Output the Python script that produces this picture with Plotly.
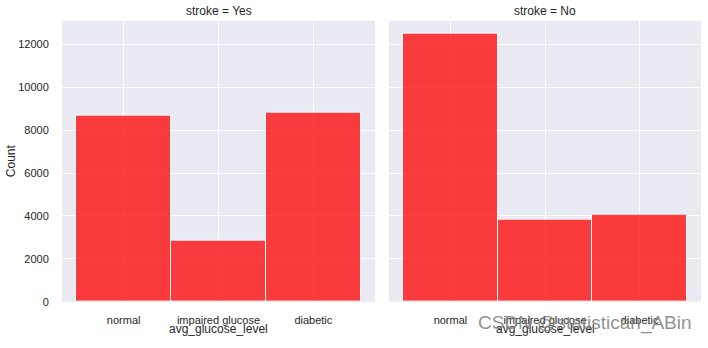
import plotly.graph_objects as go

categories = ["normal", "impaired glucose", "diabetic"]
panels = ["Yes", "No"]
counts_yes = [8680, 2840, 8820]
counts_no = [12490, 3820, 4050]
y_ticks = [0, 2000, 4000, 6000, 8000, 10000, 12000]

W, H = 708, 348
font = "Liberation Sans, Arial, sans-serif"
bg = "#EAEAF2"

fig = go.Figure()
series = [counts_yes, counts_no]
for i, (p, vals) in enumerate(zip(panels, series)):
    fig.add_trace(go.Bar(
        x=list(range(len(categories))), y=vals, width=1.0,
        marker=dict(color="red", opacity=0.75, line=dict(color="white", width=1)),
        xaxis="x" if i == 0 else "x2", yaxis="y" if i == 0 else "y2",
        showlegend=False, hoverinfo="skip",
    ))

ydom = [41 / H, 327 / H]
xdom1 = [62 / W, 375 / W]
xdom2 = [389 / W, 701 / W]
yr = [0, 13115]
xr = [-0.65, 2.65]

common_x = dict(range=xr, tickvals=list(range(len(categories))), ticktext=categories,
                showgrid=True, gridcolor="white", gridwidth=1, zeroline=False,
                showline=False, ticks="outside", ticklen=8, tickcolor="rgba(0,0,0,0)",
                tickfont=dict(family=font, size=11, color="#262626"))
common_y = dict(range=yr, tickvals=y_ticks, tickformat="d", showgrid=True, gridcolor="white",
                gridwidth=1, zeroline=False, showline=False, ticks="outside", ticklen=10,
                tickcolor="rgba(0,0,0,0)", tickfont=dict(family=font, size=11, color="#262626"))

fig.update_layout(
    width=W, height=H, margin=dict(l=0, r=0, t=0, b=0),
    paper_bgcolor="white", plot_bgcolor=bg, bargap=0,
    xaxis=dict(domain=xdom1, anchor="y", **common_x),
    xaxis2=dict(domain=xdom2, anchor="y2", **common_x),
    yaxis=dict(domain=ydom, anchor="x", **common_y),
    yaxis2=dict(domain=ydom, anchor="x2", showticklabels=False,
                **{k: v for k, v in common_y.items() if k != "tickfont"}),
    font=dict(family=font, color="#262626"),
)

annos = []
for dom, p in [(xdom1, panels[0]), (xdom2, panels[1])]:
    cx = (dom[0] + dom[1]) / 2
    annos.append(dict(text=f"stroke = {p}", x=cx, y=1 - 11 / H, xref="paper", yref="paper",
                      showarrow=False, xanchor="center", yanchor="middle",
                      font=dict(family=font, size=12, color="#262626")))
    annos.append(dict(text="avg_glucose_level", x=cx, y=1 - 335 / H, xref="paper", yref="paper",
                      showarrow=False, xanchor="center", yanchor="middle",
                      font=dict(family=font, size=12, color="#262626")))
annos.append(dict(text="Count", x=11 / W, y=(ydom[0] + ydom[1]) / 2, xref="paper", yref="paper",
                  showarrow=False, textangle=-90, xanchor="center", yanchor="middle",
                  font=dict(family=font, size=12, color="#262626")))
annos.append(dict(text="CSDN @statistican_ABin", x=694 / W, y=1 - 329 / H, xref="paper", yref="paper",
                  showarrow=False, xanchor="right", yanchor="middle",
                  font=dict(family=font, size=19, color="rgba(125,125,125,0.85)")))
fig.update_layout(annotations=annos)

fig.write_html("out.html")
